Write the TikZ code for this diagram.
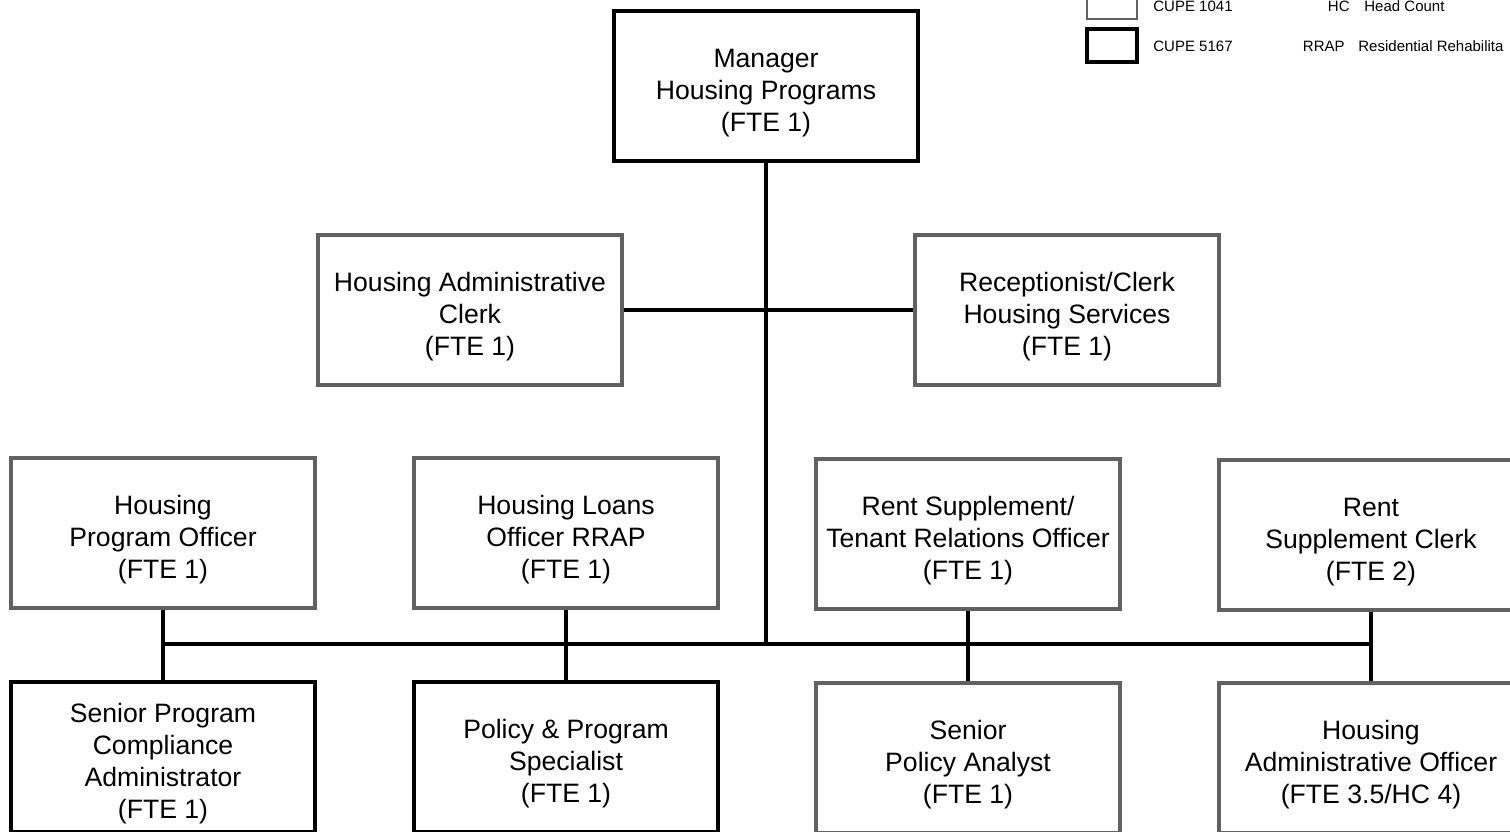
\documentclass[tikz,border=0pt]{standalone}
\usepackage{fontspec}
\setmainfont{Liberation Sans}
\usepackage{tikz}
\usetikzlibrary{calc}
\newcommand{\toppad}{\rule{0pt}{16.7pt}}

\begin{document}
\begin{tikzpicture}[x=0.5pt,y=-0.5pt,
 font=\fontsize{13.3}{16}\selectfont,
 bk/.style={draw=black,line width=2.2pt,fill=white,minimum width=152pt,minimum height=75pt,align=center,inner sep=0pt},
 gr/.style={bk,draw=black!62,line width=1.6pt},
 ln/.style={line width=1.6pt},
 lg/.style={font=\fontsize{7.5}{9}\selectfont,inner sep=0pt}]
\useasboundingbox (0,0) rectangle (1510,831);
\clip (0,0) rectangle (1510,831);
% legend
\node[gr,minimum width=25pt,minimum height=17pt,line width=1pt] (lga) at (1112,2) {};
\node[bk,minimum width=25pt,minimum height=16.5pt,line width=1.6pt] (lgb) at (1112,45.5) {};
\node[lg,anchor=west] (lgat) at (1153,6) {CUPE 1041};
\node[lg,anchor=west] (lgbt) at (1153,46) {CUPE 5167};
\node[lg,anchor=east] (hc) at (1350,6) {HC};
\node[lg,anchor=west] (hct) at (1364,6) {Head Count};
\node[lg,anchor=east] (rrap) at (1345,46) {RRAP};
\node[lg,anchor=west] (rrapt) at (1358,46) {Residential Rehabilita};
% boxes
\node[bk] (mgr) at (766,86) {\toppad Manager\\Housing Programs\\(FTE 1)};
\node[gr] (hac) at (470,310) {\toppad Housing Administrative\\Clerk\\(FTE 1)};
\node[gr] (rec) at (1067,310) {\toppad Receptionist/Clerk\\Housing Services\\(FTE 1)};
\node[gr] (hpo) at (163,533) {\toppad Housing\\Program Officer\\(FTE 1)};
\node[gr] (hlo) at (566,533) {\toppad Housing Loans\\Officer RRAP\\(FTE 1)};
\node[gr] (rst) at (968,534) {\toppad Rent Supplement/\\Tenant Relations Officer\\(FTE 1)};
\node[gr] (rsc) at (1371,535) {\toppad Rent\\Supplement Clerk\\(FTE 2)};
\node[bk] (spc) at (163,757) {\toppad Senior Program\\Compliance\\Administrator\\(FTE 1)};
\node[bk] (pps) at (566,757) {\toppad Policy \& Program\\Specialist\\(FTE 1)};
\node[gr] (spa) at (968,758) {\toppad Senior\\Policy Analyst\\(FTE 1)};
\node[gr] (hao) at (1371,758) {\toppad Housing\\Administrative Officer\\(FTE 3.5/HC 4)};
% lines
\coordinate (bus) at (766,644);
\draw[ln] (mgr.south) -- (bus);
\draw[ln] (hac.east) -- (rec.west);
\draw[ln] (hpo.south |- bus) -- (hao.north |- bus);
\draw[ln] (hpo.south) -- (spc.north);
\draw[ln] (hlo.south) -- (pps.north);
\draw[ln] (rst.south) -- (spa.north);
\draw[ln] (rsc.south) -- (hao.north);
\end{tikzpicture}
\end{document}
